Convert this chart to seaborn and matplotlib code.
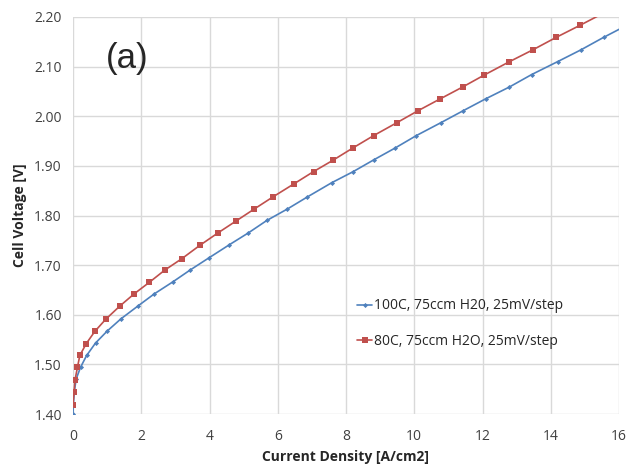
import matplotlib
matplotlib.use("Agg")
import matplotlib.pyplot as plt
import seaborn as sns
import pandas as pd
from matplotlib.ticker import FormatStrFormatter, MultipleLocator

# Data
current_100c = [0.0, 0.01, 0.04, 0.09, 0.22, 0.40, 0.66, 1.00, 1.40, 1.91, 2.38, 2.92,
                3.43, 3.98, 4.58, 5.14, 5.68, 6.28, 6.87, 7.58, 8.20, 8.81, 9.44,
                10.06, 10.78, 11.43, 12.09, 12.79, 13.44, 14.20, 14.89, 15.55, 16.25]
voltage_100c = [1.400, 1.420, 1.445, 1.470, 1.494, 1.518, 1.543, 1.567, 1.5915, 1.618,
                1.642, 1.666, 1.690, 1.7145, 1.741, 1.765, 1.790, 1.813, 1.8375, 1.866,
                1.888, 1.912, 1.936, 1.961, 1.987, 2.011, 2.035, 2.059, 2.084, 2.110,
                2.134, 2.159, 2.184]

current_80c = [0.0, 0.03, 0.06, 0.13, 0.20, 0.39, 0.64, 0.96, 1.38, 1.79, 2.23,
               2.69, 3.19, 3.72, 4.25, 4.78, 5.31, 5.86, 6.48, 7.05, 7.61, 8.20, 8.81,
               9.49, 10.12, 10.76, 11.42, 12.05, 12.79, 13.48, 14.16, 14.85, 15.55]
voltage_80c = [1.419, 1.4435, 1.469, 1.494, 1.518, 1.542, 1.5665, 1.591, 1.618,
               1.642, 1.665, 1.690, 1.713, 1.740, 1.765, 1.789, 1.813, 1.8375, 1.864,
               1.8885, 1.911, 1.936, 1.961, 1.987, 2.0115, 2.035, 2.059, 2.083, 2.110,
               2.134, 2.159, 2.183, 2.208]

label_100c = "100C, 75ccm H20, 25mV/step"
label_80c = "80C, 75ccm H2O, 25mV/step"

x_ticks = [0, 2, 4, 6, 8, 10, 12, 14, 16]

sns.set_theme(style="white")
plt.rcParams['font.family'] = ['Open Sans', 'DejaVu Sans']

fig = plt.figure(figsize=(6.29, 4.66), dpi=100)
ax = fig.add_axes([73/629, 1 - 414/466, 546/629, 397/466])

blue = "#4f81bd"
red = "#c0504d"

df_b = pd.DataFrame({"x": current_100c, "y": voltage_100c})
df_r = pd.DataFrame({"x": current_80c, "y": voltage_80c})

sns.lineplot(data=df_b, x="x", y="y", sort=False, estimator=None, ax=ax,
             color=blue, linewidth=1.2, marker="D", markersize=2.6,
             markeredgewidth=0, label=label_100c, zorder=3)
sns.lineplot(data=df_r, x="x", y="y", sort=False, estimator=None, ax=ax,
             color=red, linewidth=1.2, marker="s", markersize=4.8,
             markeredgewidth=0, label=label_80c, zorder=4)

ax.set_xlim(0, 16)
ax.set_ylim(1.40, 2.20)
ax.yaxis.set_major_locator(MultipleLocator(0.1))
ax.yaxis.set_major_formatter(FormatStrFormatter("%.2f"))
ax.set_xticks(x_ticks)
ax.set_xticklabels([str(t) for t in x_ticks])

ax.grid(True, color="#d9d9d9", linewidth=1.0)
ax.set_axisbelow(True)
for s in ax.spines.values():
    s.set_visible(False)

ax.tick_params(axis="x", labelsize=10, colors="#404040", length=0, pad=11)
ax.tick_params(axis="y", labelsize=10, colors="#404040", length=0, pad=8)

ax.set_xlabel("Current Density [A/cm2]", fontsize=10, fontweight="bold",
              color="#262626", labelpad=4)
ax.set_ylabel("Cell Voltage [V]", fontsize=10, fontweight="bold",
              color="#262626", labelpad=5)

ax.text(1.58, 2.117, "(a)", fontsize=25, color="#262626", ha="center", va="center",
        family=["Liberation Sans", "DejaVu Sans"])

leg = ax.legend(loc="upper left", bbox_to_anchor=(0.51, 0.305), frameon=False,
                fontsize=10, handlelength=1.1, handletextpad=0.15,
                labelspacing=1.5, borderaxespad=0)
for t in leg.get_texts():
    t.set_color("#262626")

fig.savefig("out.png", dpi=100)
